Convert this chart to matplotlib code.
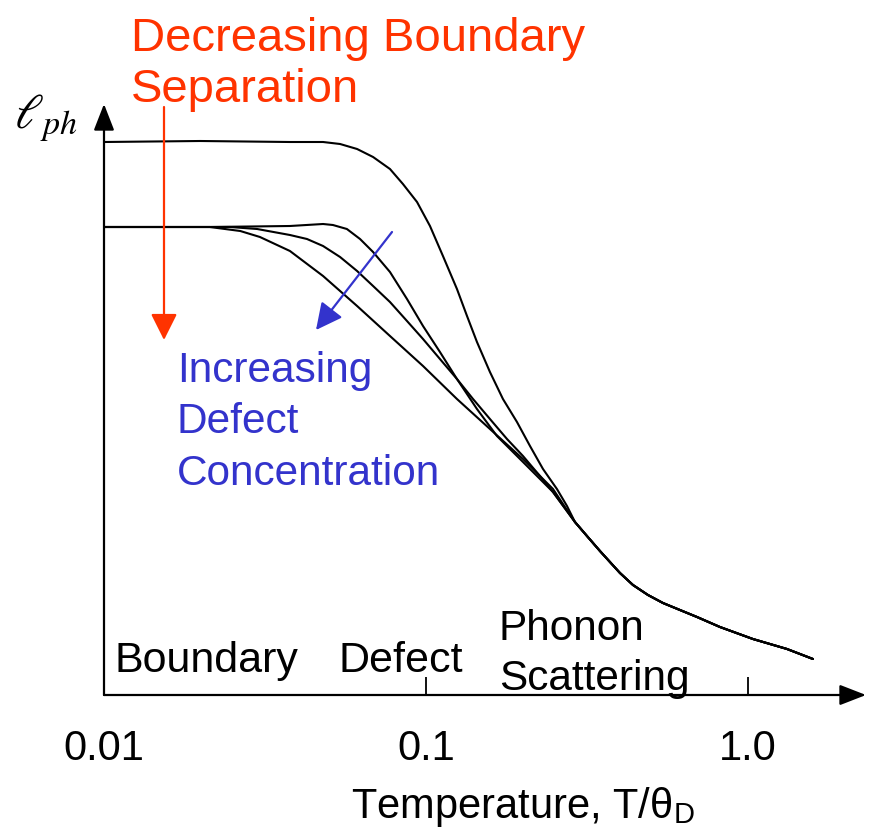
import matplotlib
matplotlib.use("Agg")
import matplotlib.pyplot as plt
from matplotlib.patches import FancyArrowPatch
from matplotlib.ticker import NullLocator

plt.rcParams['font.family'] = ['Liberation Sans', 'DejaVu Sans']
plt.rcParams['mathtext.fontset'] = 'stix'

# ---- data (T/theta_D, phonon mean free path in arbitrary units) ----
# largest boundary separation
top_T = [0.0100, 0.0199, 0.0378, 0.0479, 0.0541, 0.0611, 0.0685, 0.0773, 0.0848, 0.0938,
         0.1029, 0.1129, 0.1248, 0.1341, 0.1440, 0.1580, 0.1734, 0.1917, 0.2104, 0.2309,
         0.2551, 0.2741]
top_l = [5.53, 5.54, 5.53, 5.53, 5.51, 5.46, 5.38, 5.26, 5.11, 4.93,
         4.69, 4.39, 4.06, 3.79, 3.53, 3.23, 2.96, 2.73, 2.49, 2.26,
         2.06, 1.89]

# smaller boundary separation, increasing defect concentration a -> b -> c
a_T = [0.0100, 0.0213, 0.0378, 0.0479, 0.0514, 0.0568, 0.0624, 0.0685, 0.0773, 0.0873,
       0.0979, 0.1105, 0.1248, 0.1440, 0.1661, 0.1917, 0.2212, 0.2480]
a_l = [4.68, 4.68, 4.69, 4.71, 4.70, 4.66, 4.56, 4.43, 4.23, 3.96,
       3.69, 3.43, 3.16, 2.86, 2.59, 2.39, 2.19, 2.03]

b_T = [0.0100, 0.0246, 0.0299, 0.0378, 0.0427, 0.0479, 0.0541, 0.0611, 0.0685, 0.0773,
       0.0873, 0.0979, 0.1105, 0.1248, 0.1400, 0.1580, 0.1785, 0.2001, 0.2259, 0.2480]
b_l = [4.68, 4.68, 4.66, 4.60, 4.56, 4.49, 4.38, 4.24, 4.09, 3.93,
       3.74, 3.56, 3.36, 3.16, 2.96, 2.76, 2.56, 2.39, 2.19, 2.03]

c_T = [0.0100, 0.0213, 0.0265, 0.0305, 0.0378, 0.0479, 0.0541, 0.0611, 0.0773, 0.0979,
       0.1248, 0.1580, 0.2001, 0.2480]
c_l = [4.68, 4.68, 4.64, 4.58, 4.44, 4.19, 4.04, 3.89, 3.59, 3.29,
       2.96, 2.66, 2.36, 2.06]

# common phonon-scattering tail
tail_T = [0.2902, 0.3162, 0.3470, 0.3727, 0.4004, 0.4394, 0.4892, 0.5445, 0.6149, 0.6946,
          0.8185, 1.036, 1.322, 1.592]
tail_l = [1.73, 1.59, 1.44, 1.33, 1.22, 1.10, 1.00, 0.92, 0.85, 0.78,
          0.68, 0.56, 0.46, 0.36]

tick_vals = [0.01, 0.1, 1.0]
tick_labels = ["0.01", "0.1", "1.0"]

W, H = 876, 828
fig = plt.figure(figsize=(W / 100, H / 100), dpi=100)


def fx(px):
    return px / W


def fy(py):
    return 1 - py / H


ax = fig.add_axes([fx(104), fy(696), fx(866) - fx(104), fy(105) - fy(696)])
ax.set_xscale('log')
ax.set_xlim(0.01, 2.326)
ax.set_ylim(0, 5.91)
for s in ax.spines.values():
    s.set_visible(False)

ax.set_yticks([])
ax.set_xticks(tick_vals)
ax.set_xticklabels(tick_labels)
ax.xaxis.set_minor_locator(NullLocator())
ax.tick_params(axis='x', direction='in', length=13, width=1.3, pad=24, labelsize=30)
ax.xaxis.get_major_ticks()[0].tick1line.set_visible(False)

for T, l in [(top_T, top_l), (a_T, a_l), (b_T, b_l), (c_T, c_l)]:
    ax.plot(list(T) + tail_T, list(l) + tail_l, color='black', lw=1.5,
            solid_joinstyle='round', solid_capstyle='round')

# axes with arrowheads
arrow_kw = dict(arrowstyle='-|>,head_length=0.9,head_width=0.35', color='black', lw=1.6,
                mutation_scale=18, shrinkA=0, shrinkB=0)
ax.annotate('', xy=(1, 0), xytext=(0, 0), xycoords='axes fraction', textcoords='axes fraction',
            arrowprops=arrow_kw)
ax.annotate('', xy=(0, 1), xytext=(0, 0), xycoords='axes fraction', textcoords='axes fraction',
            arrowprops=arrow_kw)

# x label
fig.text(fx(523), fy(818), r'Temperature, T/θ$_\mathregular{D}$', fontsize=30,
         ha='center', va='baseline')

# y label
fig.text(fx(14), fy(128), r'$\ell_{ph}$', fontsize=35, ha='left', va='baseline')

# red annotation
red = '#FF3300'
fig.text(fx(131), fy(51), 'Decreasing Boundary', color=red, fontsize=34, va='baseline')
fig.text(fx(131), fy(102), 'Separation', color=red, fontsize=34, va='baseline')
fig.patches.append(FancyArrowPatch(
    (fx(164), fy(108)), (fx(164), fy(341)), transform=fig.transFigure,
    arrowstyle='-|>,head_length=0.9,head_width=0.45', mutation_scale=18,
    color=red, lw=1.6, shrinkA=0, shrinkB=0))

# blue annotation
blue = '#3333CC'
fig.text(fx(177), fy(382), 'Increasing', color=blue, fontsize=30.5, va='baseline')
fig.text(fx(177), fy(433), 'Defect', color=blue, fontsize=30.5, va='baseline')
fig.text(fx(177), fy(485), 'Concentration', color=blue, fontsize=30.5, va='baseline')
fig.patches.append(FancyArrowPatch(
    (fx(392), fy(233)), (fx(316), fy(331)), transform=fig.transFigure,
    arrowstyle='-|>,head_length=0.9,head_width=0.45', mutation_scale=18,
    color=blue, lw=1.6, shrinkA=0, shrinkB=0))

# regime labels
fig.text(fx(114), fy(672), 'Boundary', fontsize=31, va='baseline')
fig.text(fx(338), fy(672), 'Defect', fontsize=31, va='baseline')
fig.text(fx(499), fy(640), 'Phonon', fontsize=30.5, va='baseline')
fig.text(fx(499), fy(690), 'Scattering', fontsize=30.5, va='baseline')

fig.savefig('out.png', dpi=100)
